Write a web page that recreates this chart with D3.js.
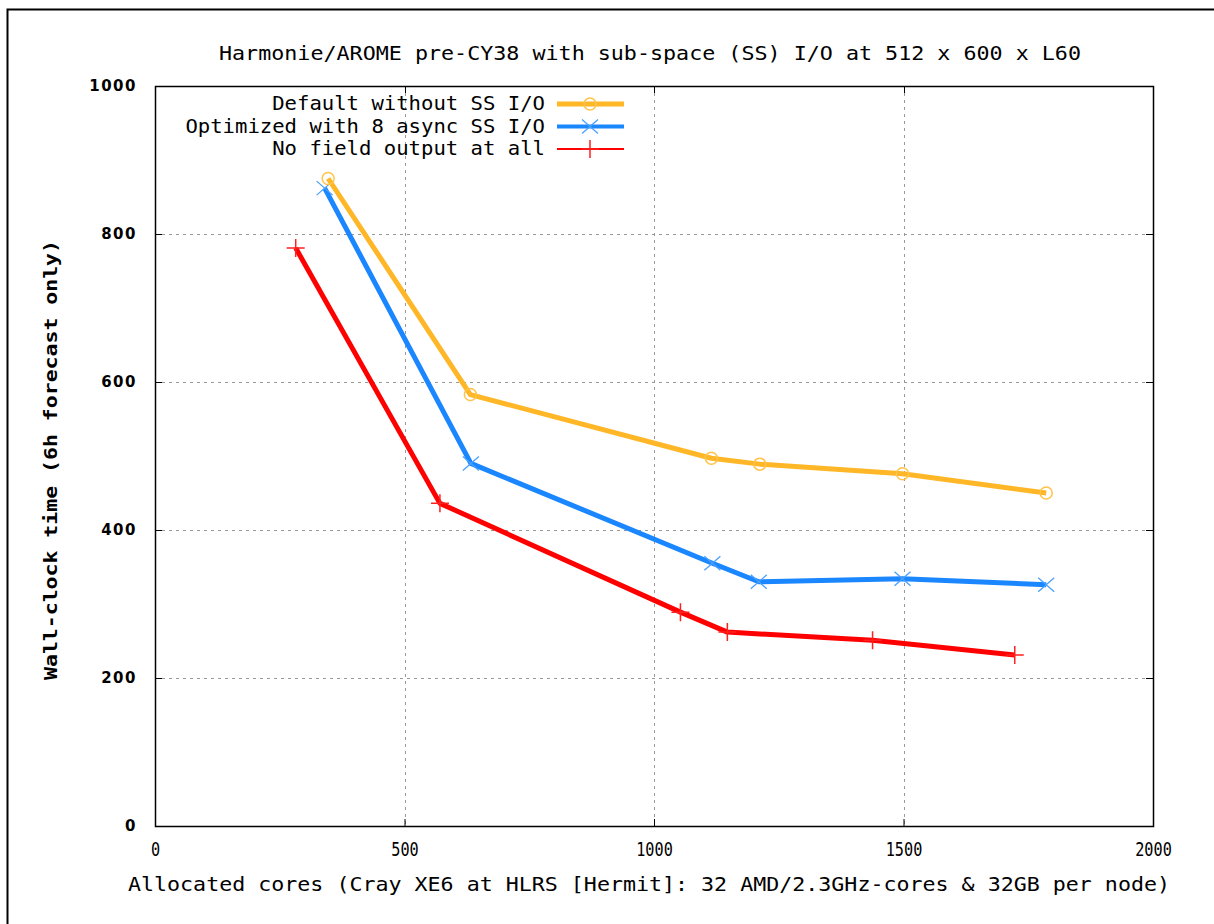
<!DOCTYPE html>
<html>
<head>
<meta charset="utf-8">
<script src="https://cdn.jsdelivr.net/npm/d3@7"></script>
<style>
  body { margin: 0; background: #fff; }
  svg { display: block; }
</style>
</head>
<body>
<div id="chart"></div>
<script>
// values
var seriesNames = ["Default without SS I/O", "Optimized with 8 async SS I/O", "No field output at all"];
var defaultCores = [347, 632, 1115, 1212, 1498, 1786];
var defaultTime  = [875, 583, 497, 489, 476, 450];
var optimCores   = [340, 633, 1117, 1210, 1498, 1786];
var optimTime    = [862, 490, 355, 330, 334, 326];
var noOutCores   = [282, 571, 1053, 1147, 1438, 1723];
var noOutTime    = [781, 436, 289, 262, 251, 231];
var xTicks = [0, 500, 1000, 1500, 2000];
var yTicks = [0, 200, 400, 600, 800, 1000];

var width = 1214, height = 924;
var plotLeft = 155, plotRight = 1153, plotTop = 86, plotBottom = 826;

var svg = d3.select("#chart").append("svg")
  .attr("width", width)
  .attr("height", height);

// outer page border (left + top only visible)
svg.append("path")
  .attr("d", "M7.5," + height + "V9.5H" + width)
  .attr("fill", "none")
  .attr("stroke", "#000")
  .attr("stroke-width", 2);

var x = d3.scaleLinear().domain([0, 2000]).range([plotLeft, plotRight]);
var y = d3.scaleLinear().domain([0, 1000]).range([plotBottom, plotTop]);

// grid
var grid = svg.append("g").attr("stroke", "#999").attr("stroke-dasharray", "3,4").attr("stroke-width", 1);
grid.selectAll(".gx").data(xTicks.slice(1, -1)).enter().append("line")
  .attr("x1", d => Math.round(x(d)) + 0.5).attr("x2", d => Math.round(x(d)) + 0.5)
  .attr("y1", plotTop).attr("y2", plotBottom);
grid.selectAll(".gy").data(yTicks.slice(1, -1)).enter().append("line")
  .attr("y1", d => Math.round(y(d)) + 0.5).attr("y2", d => Math.round(y(d)) + 0.5)
  .attr("x1", plotLeft).attr("x2", plotRight);

// axes with inward ticks
var xAxis = d3.axisBottom(x).tickValues(xTicks).tickFormat(d3.format("d")).tickSizeInner(-7).tickSizeOuter(0).tickPadding(17);
var yAxis = d3.axisLeft(y).tickValues(yTicks).tickFormat(d3.format("d")).tickSizeInner(-7).tickSizeOuter(0).tickPadding(18);

var gx = svg.append("g").attr("transform", "translate(0," + plotBottom + ")").call(xAxis);
gx.select(".domain").remove();
gx.selectAll("text")
  .attr("font-family", "'DejaVu Sans Mono', monospace")
  .attr("font-size", 19)
  .attr("fill", "#000")
  .attr("transform", "scale(0.8,1)");

var gy = svg.append("g").attr("transform", "translate(" + plotLeft + ",0)").call(yAxis);
gy.select(".domain").remove();
gy.selectAll("text")
  .attr("font-family", "'DejaVu Sans', sans-serif")
  .attr("font-weight", "bold")
  .attr("font-size", 15)
  .attr("letter-spacing", 1.5)
  .attr("fill", "#000");

// top and right ticks
svg.append("g").selectAll("line").data(xTicks.slice(1, -1)).enter().append("line")
  .attr("x1", d => Math.round(x(d)) + 0.5).attr("x2", d => Math.round(x(d)) + 0.5)
  .attr("y1", plotTop).attr("y2", plotTop + 7).attr("stroke", "#000");
svg.append("g").selectAll("line").data(yTicks.slice(1, -1)).enter().append("line")
  .attr("y1", d => Math.round(y(d)) + 0.5).attr("y2", d => Math.round(y(d)) + 0.5)
  .attr("x1", plotRight - 7).attr("x2", plotRight).attr("stroke", "#000");

// frame
svg.append("rect")
  .attr("x", plotLeft + 0.5).attr("y", plotTop + 0.5)
  .attr("width", plotRight - plotLeft).attr("height", plotBottom - plotTop)
  .attr("fill", "none").attr("stroke", "#000").attr("stroke-width", 1.5);

// texts
function condensed(txt, cx, cy, size, len) {
  return svg.append("text")
    .attr("x", cx).attr("y", cy)
    .attr("text-anchor", "middle")
    .attr("font-family", "'DejaVu Sans Mono', monospace")
    .attr("font-size", size)
    .attr("textLength", len)
    .attr("lengthAdjust", "spacingAndGlyphs")
    .attr("fill", "#000")
    .text(txt);
}
condensed("Harmonie/AROME pre-CY38 with sub-space (SS) I/O at 512 x 600 x L60", 650, 60, 19, 862);
condensed("Allocated cores (Cray XE6 at HLRS [Hermit]: 32 AMD/2.3GHz-cores & 32GB per node)", 649, 891, 19, 1042);

svg.append("text")
  .attr("transform", "translate(57,460) rotate(-90)")
  .attr("text-anchor", "middle")
  .attr("font-family", "'DejaVu Sans Mono', monospace")
  .attr("font-weight", "bold")
  .attr("font-size", 17)
  .attr("textLength", 440)
  .attr("lengthAdjust", "spacingAndGlyphs")
  .text("Wall-clock time (6h forecast only)");

// series
var series = [
  { name: seriesNames[0], color: "#ffb727", markColor: "#ffc34a", cores: defaultCores, time: defaultTime, marker: "circle", legendWidth: 5 },
  { name: seriesNames[1], color: "#1a86ff", markColor: "#4aa0ff", cores: optimCores, time: optimTime, marker: "x", legendWidth: 4 },
  { name: seriesNames[2], color: "#ff0000", markColor: "#ff2020", cores: noOutCores, time: noOutTime, marker: "plus", legendWidth: 2 }
];

var line = d3.line().x(d => x(d[0])).y(d => y(d[1]));

function drawMarker(g, type, color) {
  if (type === "circle") {
    g.append("circle").attr("r", 6).attr("fill", "none").attr("stroke", color).attr("stroke-width", 1.5);
  } else if (type === "x") {
    g.append("path").attr("d", "M-8,-7L8,7M-8,7L8,-7").attr("stroke", color).attr("stroke-width", 1.3);
  } else {
    g.append("path").attr("d", "M-9,0H9M0,-9V9").attr("stroke", color).attr("stroke-width", 1.5);
  }
}

series.slice().reverse().forEach(function(s) {
  var pts = s.cores.map((c, i) => [c, s.time[i]]);
  svg.append("path")
    .datum(pts)
    .attr("d", line)
    .attr("fill", "none")
    .attr("stroke", s.color)
    .attr("stroke-width", 5)
    .attr("stroke-linejoin", "round");
  svg.append("g").selectAll("g").data(pts).enter().append("g")
    .attr("transform", d => "translate(" + x(d[0]) + "," + y(d[1]) + ")")
    .each(function() { drawMarker(d3.select(this), s.marker, s.markColor); });
});

// legend
var legend = svg.append("g");
series.forEach(function(s, i) {
  var ly = 104 + i * 22.5;
  condensed(s.name, 0, ly + 6, 19, s.name.length * 12.4)
    .attr("text-anchor", "end").attr("x", 545);
  legend.append("line")
    .attr("x1", 557).attr("x2", 624).attr("y1", ly).attr("y2", ly)
    .attr("stroke", s.color).attr("stroke-width", s.legendWidth);
  drawMarker(legend.append("g").attr("transform", "translate(590," + ly + ")"), s.marker, s.markColor);
});
</script>
</body>
</html>
